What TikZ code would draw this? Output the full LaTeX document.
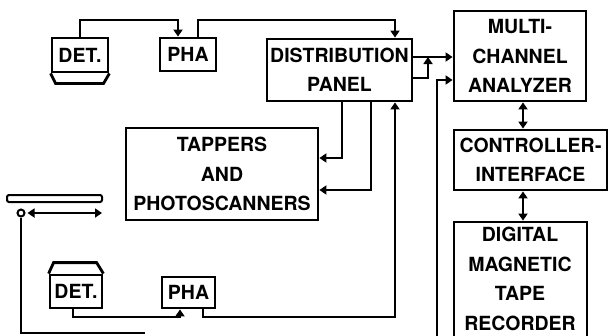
\documentclass[tikz,border=0pt]{standalone}
\usepackage{fontspec}
\setsansfont{TeX Gyre Heros}
\usetikzlibrary{arrows.meta}
\tikzset{
    blk/.style = {draw, line width=2.8pt, inner sep=0pt, align=center,
        font=\sffamily\bfseries\fontsize{19.5}{29.5}\selectfont},
    wire/.style = {line width=2.8pt},
    tip/.style = {-{Triangle[length=7pt,width=9pt]}},
    tips/.style = {{Triangle[length=7pt,width=9pt]}-{Triangle[length=7pt,width=9pt]}}
}

\begin{document}
\begin{tikzpicture}[x=1pt, y=-1pt]
            \useasboundingbox (0,0) rectangle (610,335);
            \clip (0,0) rectangle (610,335);
            \node[blk, minimum width=56pt, minimum height=34pt] (det1) at (80,55) {DET.};
            \node[blk, minimum width=56pt, minimum height=33pt] (pha1) at (188,54.5) {PHA};
            \node[blk, minimum width=145pt, minimum height=62pt] (dist) at (339.5,70) {DISTRIBUTION\\PANEL};
            \node[blk, minimum width=132pt, minimum height=90pt] (mca) at (520,56) {MULTI-\\CHANNEL\\ANALYZER};
            \node[blk, minimum width=153pt, minimum height=60pt] (ctrl) at (530.5,160) {CONTROLLER-\\INTERFACE};
            \node[blk, minimum width=133pt, minimum height=136pt] (dmtr) at (520.5,290) {};
            \node[blk, draw=none] (dmtrtxt) at (520,279) {DIGITAL\\MAGNETIC\\TAPE\\RECORDER};
            \node[blk, minimum width=192pt, minimum height=92pt] (tap) at (222,174) {TAPPERS\\AND\\PHOTOSCANNERS};
            \node[blk, minimum width=52pt, minimum height=33pt] (det2) at (76,291.5) {DET.};
            \node[blk, minimum width=53pt, minimum height=31pt] (pha2) at (188.5,292.5) {PHA};
            \node[circle, draw, line width=2pt, minimum size=7pt, inner sep=0pt] (pos) at (21,213) {};
            \coordinate (t1) at (178,20);
            \coordinate (t2) at (395,20);
            \coordinate (j) at (428,57);
            \coordinate (b1) at (437,340);
            \coordinate (d1) at (342,158);
            \coordinate (d2) at (371,190);
            \coordinate (d3) at (395,317);
            \coordinate (d4) at (180,317);
            \coordinate (c1) at (523,0);
            \coordinate (pr) at (102,213);
            \coordinate (b0) at (145,333);
            \draw[wire] (det1.south west) -- ++(5,10) -- ++(48,0) -- (det1.south east);
            \draw[wire] (det2.north west) -- ++(5,-11) -- ++(43,0) -- (det2.north east);
            \draw[line width=2pt, rounded corners=2pt] (7,195) rectangle (102,202);
            \draw[wire, tip] (det1.north) |- (t1) -- (t1 |- pha1.north);
            \draw[wire, tip] ([xshift=10pt]pha1.north) |- (t2) -- (t2 |- dist.north);
            \draw[wire, tip] ([yshift=13pt]dist.east) -- (j -| mca.west);
            \draw[wire, tip] ([yshift=-8pt]dist.east) -| (j);
            \draw[wire, tip] (b1) |- ([yshift=-24pt]mca.west);
            \draw[wire, tip] (d1 |- dist.south) |- (d1 -| tap.east);
            \draw[wire, tip] (d2 |- dist.south) |- (d2 -| tap.east);
            \draw[wire, tip] ([xshift=14.5pt]pha2.south) |- (d3) -- (d3 |- dist.south);
            \draw[wire, tip] ([xshift=-3pt]det2.south) |- (d4) -- (d4 |- pha2.south);
            \draw[wire, tips] (c1 |- mca.south) -- (c1 |- ctrl.north);
            \draw[wire, tips] (c1 |- ctrl.south) -- (c1 |- dmtr.north);
            \draw[wire, tips] ([xshift=2pt]pos.east) -- (pr);
            \draw[wire] (pos.south) |- (b0);
        \end{tikzpicture}
\end{document}
